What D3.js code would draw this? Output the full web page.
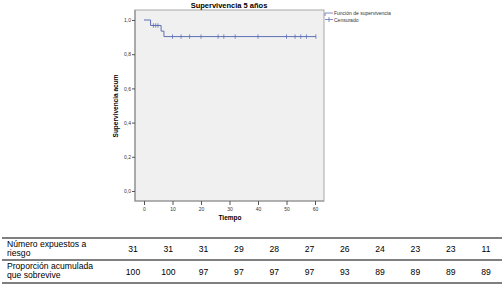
<!DOCTYPE html>
<html>
<head>
<meta charset="utf-8">
<script src="https://cdn.jsdelivr.net/npm/d3@7"></script>
<style>
  body { margin: 0; background: #fff; }
  svg { display: block; }
</style>
</head>
<body>
<div id="chart"></div>
<script>
// Kaplan-Meier steps
const eventTimes = [0, 2.3, 6, 7]
const eventSurv = [1, 0.968, 0.935, 0.903]
const endTime = 60.3
const censorTimes = [3.3, 4.1, 4.9, 10, 13, 16, 20, 26, 28, 32, 40, 50, 53, 55, 57, 60.3]

const yTicks = [0, 0.2, 0.4, 0.6, 0.8, 1]
const xTicks = [0, 10, 20, 30, 40, 50, 60]

// table below the chart
const rowLabels = [['Número expuestos a', 'riesgo'], ['Proporción acumulada', 'que sobrevive']]
const atRisk = [31, 31, 31, 29, 28, 27, 26, 24, 23, 23, 11]
const propSurv = [100, 100, 97, 97, 97, 97, 93, 89, 89, 89, 89]

const width = 504, height = 287
const lineCol = '#5d6fb6'

const svg = d3.select('#chart').append('svg')
  .attr('width', width)
  .attr('height', height)

const x = d3.scaleLinear().domain([0, 60]).range([144, 315])
const y = d3.scaleLinear().domain([0, 1]).range([191, 20])

const frame = {x0: 135, x1: 324, y0: 10, y1: 201}

svg.append('rect')
  .attr('x', frame.x0).attr('y', frame.y0)
  .attr('width', frame.x1 - frame.x0).attr('height', frame.y1 - frame.y0)
  .attr('fill', '#f0f0f0')
  .attr('stroke', '#a8a8a8')
  .attr('stroke-width', 1)

// left and bottom axis lines a bit darker
svg.append('path')
  .attr('d', `M${frame.x0},${frame.y0}V${frame.y1}H${frame.x1}`)
  .attr('fill', 'none').attr('stroke', '#909090').attr('stroke-width', 1.2)

const yAxis = svg.append('g')
  .attr('transform', `translate(${frame.x0},0)`)
  .call(d3.axisLeft(y).tickValues(yTicks).tickSize(3).tickPadding(1)
    .tickFormat(d => d.toFixed(1).replace('.', ',')))
yAxis.select('.domain').remove()
yAxis.selectAll('line').attr('stroke', '#555')
yAxis.selectAll('text').attr('font-family', 'Arial, Liberation Sans, sans-serif')
  .attr('font-size', 5).attr('fill', '#333')

const xAxis = svg.append('g')
  .attr('transform', `translate(0,${frame.y1})`)
  .call(d3.axisBottom(x).tickValues(xTicks).tickSize(4).tickPadding(2))
xAxis.select('.domain').remove()
xAxis.selectAll('line').attr('stroke', '#555')
xAxis.selectAll('text').attr('font-family', 'Arial, Liberation Sans, sans-serif')
  .attr('font-size', 5).attr('fill', '#333')

// title and axis titles
svg.append('text')
  .attr('x', 229).attr('y', 8)
  .attr('text-anchor', 'middle')
  .attr('font-family', 'Arial, Liberation Sans, sans-serif')
  .attr('font-size', 7.5).attr('font-weight', 'bold')
  .text('Supervivencia 5 años')

svg.append('text')
  .attr('transform', 'translate(118,106) rotate(-90)')
  .attr('text-anchor', 'middle')
  .attr('font-family', 'Arial, Liberation Sans, sans-serif')
  .attr('font-size', 6.5).attr('font-weight', 'bold')
  .text('Supervivencia acum')

svg.append('text')
  .attr('x', 230).attr('y', 220)
  .attr('text-anchor', 'middle')
  .attr('font-family', 'Arial, Liberation Sans, sans-serif')
  .attr('font-size', 6.5).attr('font-weight', 'bold')
  .text('Tiempo')

// survival step line
const steps = eventTimes.map((t, i) => [t, eventSurv[i]])
steps.push([endTime, eventSurv[eventSurv.length - 1]])
const line = d3.line().x(d => x(d[0])).y(d => y(d[1])).curve(d3.curveStepAfter)

svg.append('path')
  .datum(steps)
  .attr('d', line)
  .attr('fill', 'none')
  .attr('stroke', lineCol)
  .attr('stroke-width', 1)

const survAt = t => {
  let s = 1
  eventTimes.forEach((et, i) => { if (t >= et) s = eventSurv[i] })
  return s
}

svg.append('g').selectAll('line')
  .data(censorTimes)
  .join('line')
  .attr('x1', d => x(d)).attr('x2', d => x(d))
  .attr('y1', d => y(survAt(d)) - 2.2).attr('y2', d => y(survAt(d)) + 2.2)
  .attr('stroke', lineCol)
  .attr('stroke-width', 0.8)

// legend
const lg = svg.append('g').attr('transform', 'translate(325,0)')
lg.append('path')
  .attr('d', 'M0,16V13H8')
  .attr('fill', 'none').attr('stroke', lineCol).attr('stroke-width', 0.8)
lg.append('path')
  .attr('d', 'M0,19.5H8M4,17V22')
  .attr('fill', 'none').attr('stroke', lineCol).attr('stroke-width', 0.8)
lg.selectAll('text')
  .data(['Función de supervivencia', 'Censurado'])
  .join('text')
  .attr('x', 9).attr('y', (d, i) => 15 + i * 6.5)
  .attr('font-family', 'Arial, Liberation Sans, sans-serif')
  .attr('font-size', 5).attr('fill', '#333')
  .text(d => d)

// table
const tbl = svg.append('g')
const tLines = [238, 260, 283]
tbl.selectAll('line')
  .data(tLines)
  .join('line')
  .attr('x1', 2).attr('x2', 502)
  .attr('y1', d => d).attr('y2', d => d)
  .attr('stroke', '#000').attr('stroke-width', 1)

const col = d3.scaleLinear().domain([0, atRisk.length - 1]).range([133, 486])
const tf = 'Liberation Sans, Arial, sans-serif'

rowLabels.forEach((lab, r) => {
  tbl.append('g').selectAll('text')
    .data(lab)
    .join('text')
    .attr('x', 7)
    .attr('y', (d, i) => tLines[r] + 8.5 + i * 9.7)
    .attr('font-family', tf).attr('font-size', 8.6)
    .text(d => d)
})

;[atRisk, propSurv].forEach((vals, r) => {
  tbl.append('g').selectAll('text')
    .data(vals)
    .join('text')
    .attr('x', (d, i) => col(i))
    .attr('y', (tLines[r] + tLines[r + 1]) / 2 + 3)
    .attr('text-anchor', 'middle')
    .attr('font-family', tf).attr('font-size', 8.6)
    .text(d => d)
})
</script>
</body>
</html>
